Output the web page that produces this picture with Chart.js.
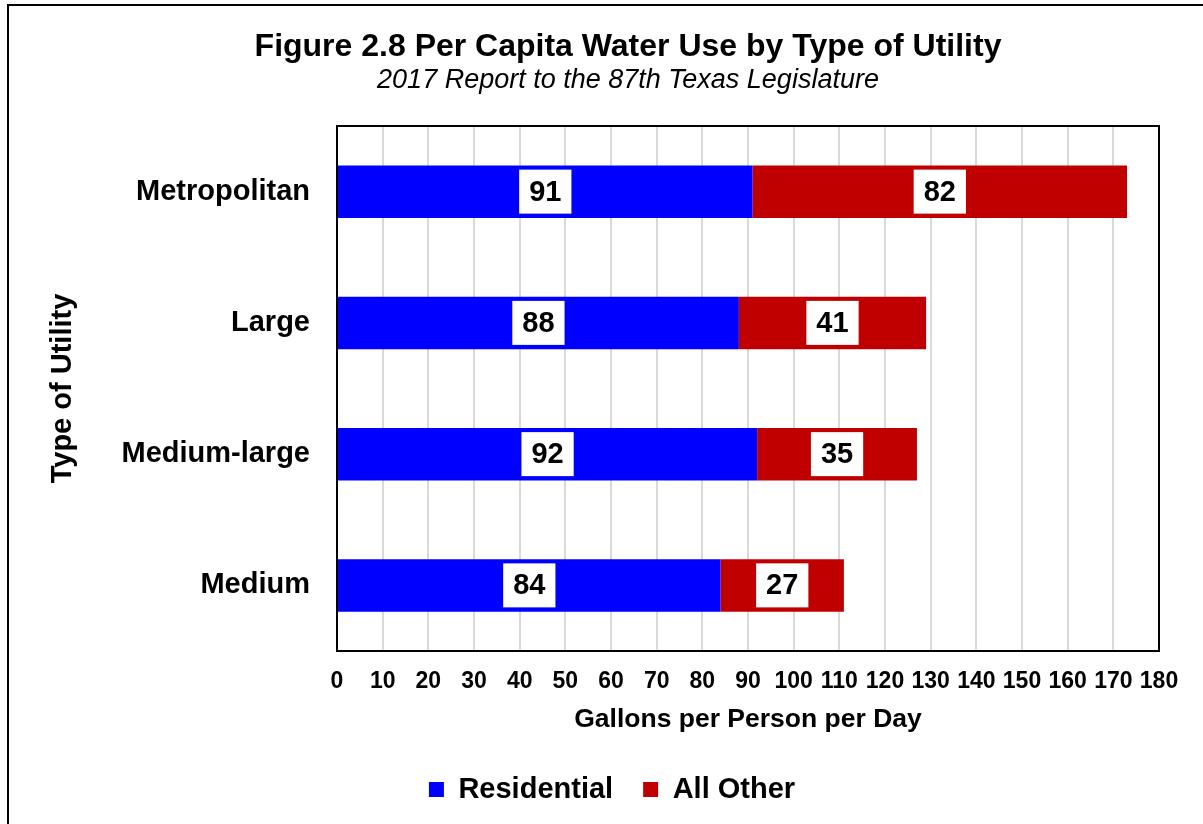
<!DOCTYPE html>
<html>
<head>
<meta charset="utf-8">
<script src="https://cdn.jsdelivr.net/npm/chart.js@4.4.1/dist/chart.umd.min.js"></script>
<style>
  html, body { margin: 0; padding: 0; overflow: hidden; background: #fff; }
  #frame { position: absolute; left: 7px; top: 4px; width: 1400px; height: 1000px; border: 2px solid #000; }
  #wrap { position: absolute; left: 0; top: 0; width: 1256px; height: 824px; }
</style>
</head>
<body>
<div id="frame"></div>
<div id="wrap"><canvas id="waterChart" width="1256" height="824"></canvas></div>
<script>
const categories = ['Metropolitan', 'Large', 'Medium-large', 'Medium'];
const residential = [91, 88, 92, 84];
const allOther = [82, 41, 35, 27];
const xTicks = [0, 10, 20, 30, 40, 50, 60, 70, 80, 90, 100, 110, 120, 130, 140, 150, 160, 170, 180];

const FONT = 'Arial, "Liberation Sans", sans-serif';

// white boxes with the segment values
const valueBoxes = {
  id: 'valueBoxes',
  afterDatasetsDraw(chart) {
    const ctx = chart.ctx;
    ctx.save();
    ctx.font = 'bold 29px ' + FONT;
    ctx.textAlign = 'center';
    ctx.textBaseline = 'middle';
    chart.data.datasets.forEach((ds, i) => {
      chart.getDatasetMeta(i).data.forEach((bar, j) => {
        const txt = String(ds.data[j]);
        const cx = (bar.x + bar.base) / 2;
        const w = ctx.measureText(txt).width + 20;
        ctx.fillStyle = '#fff';
        ctx.fillRect(cx - w / 2, bar.y - 22, w, 44);
        ctx.fillStyle = '#000';
        ctx.fillText(txt, cx, bar.y + 1);
      });
    });
    ctx.restore();
  }
};

// black box round the plot area, legend nudged left
const plotFrame = {
  id: 'plotFrame',
  afterLayout(chart) {
    chart.legend.left -= 16;
    chart.legend.right -= 16;
  },
  afterDraw(chart) {
    const a = chart.chartArea;
    const ctx = chart.ctx;
    ctx.save();
    ctx.strokeStyle = '#000';
    ctx.lineWidth = 2;
    ctx.strokeRect(a.left, a.top, a.right - a.left, a.bottom - a.top);
    ctx.restore();
  }
};

const ctx = document.getElementById('waterChart').getContext('2d');
new Chart(ctx, {
  type: 'bar',
  data: {
    labels: categories,
    datasets: [
      { label: 'Residential', data: residential, backgroundColor: '#0000FF', categoryPercentage: 1, barPercentage: 0.4 },
      { label: 'All Other', data: allOther, backgroundColor: '#C00000', categoryPercentage: 1, barPercentage: 0.4 }
    ]
  },
  options: {
    indexAxis: 'y',
    responsive: false,
    animation: false,
    layout: { padding: { left: 0, right: 0, top: 0, bottom: 10 } },
    plugins: {
      title: {
        display: true,
        text: 'Figure 2.8 Per Capita Water Use by Type of Utility',
        color: '#000',
        font: { family: FONT, size: 32, weight: 'bold', lineHeight: 1 },
        padding: { top: 31, bottom: 0 }
      },
      subtitle: {
        display: true,
        text: '2017 Report to the 87th Texas Legislature',
        color: '#000',
        font: { family: FONT, size: 27, style: 'italic', lineHeight: 1 },
        padding: { top: 4, bottom: 32 }
      },
      legend: {
        position: 'bottom',
        labels: {
          color: '#000',
          font: { family: FONT, size: 29, weight: 'bold' },
          boxWidth: 15, boxHeight: 15,
          padding: 30
        }
      },
      tooltip: { enabled: false }
    },
    scales: {
      x: {
        stacked: true,
        min: 0, max: 180,
        afterBuildTicks: s => { s.ticks = xTicks.map(v => ({ value: v })); },
        afterFit: s => { s.height = 94; },
        grid: { color: '#d9d9d9', lineWidth: 2, drawTicks: false },
        border: { color: '#000', width: 2 },
        ticks: { color: '#000', font: { family: FONT, size: 23, weight: 'bold' }, padding: 17, maxRotation: 0, autoSkip: false },
        title: {
          display: true, text: 'Gallons per Person per Day', color: '#000',
          font: { family: FONT, size: 26.5, weight: 'bold', lineHeight: 1 },
          padding: { top: 0, bottom: 12 }
        }
      },
      y: {
        stacked: true,
        afterFit: s => { s.width = 337; },
        grid: { display: false, drawTicks: false },
        border: { color: '#000', width: 2 },
        ticks: { color: '#000', font: { family: FONT, size: 29, weight: 'bold' }, padding: 27 },
        title: {
          display: true, text: 'Type of Utility', color: '#000',
          font: { family: FONT, size: 29, weight: 'bold', lineHeight: 1 },
          padding: { top: 48, bottom: 0 }
        }
      },
      // empty right-hand strip so the plot ends at the same place
      spacer: {
        axis: 'y',
        position: 'right',
        display: true,
        afterFit: s => { s.width = 97; },
        grid: { display: false, drawTicks: false },
        border: { display: false },
        ticks: { display: false }
      }
    }
  },
  plugins: [valueBoxes, plotFrame]
});
</script>
</body>
</html>
